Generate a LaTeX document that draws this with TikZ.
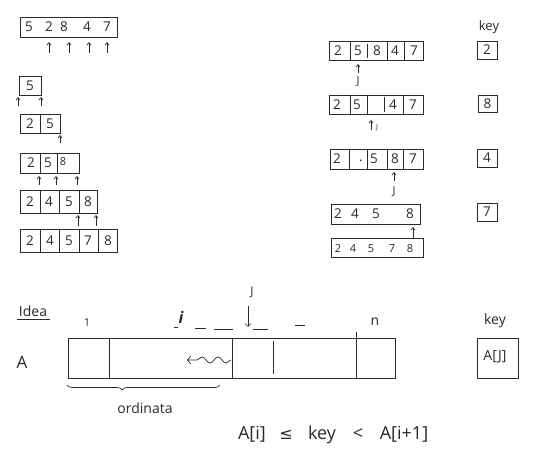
\documentclass[tikz,border=0pt]{standalone}
\usepackage{fontspec}
\setmainfont{Open Sans}
\newfontfamily\symfont{DejaVu Sans}
\usetikzlibrary{arrows.meta,decorations.pathmorphing,decorations.pathreplacing}
\definecolor{pen}{HTML}{2A2A2A}
\tikzset{
  pen/.style={draw=pen, line width=0.7pt},
  cellbox/.style={pen, rectangle, inner sep=0pt},
  dig/.style={text=pen, inner sep=0pt, font=\fontsize{13.5}{15}\selectfont},
  smalldig/.style={text=pen, inner sep=0pt, font=\fontsize{11}{13}\selectfont},
  lbl/.style={text=pen, inner sep=0pt, font=\fontsize{12}{14}\selectfont},
  formulatext/.style={text=pen, inner sep=0pt, anchor=base, font=\fontsize{18}{20}\selectfont},
  uparrow/.style={pen, -{Straight Barb[length=2.5pt,width=4pt]}},
}
\begin{document}
\begin{tikzpicture}[x=1pt,y=-1pt]
\useasboundingbox (0,0) rectangle (539,462);
\fill[white] (0,0) rectangle (539,462);

% ---- top-left unsorted array
\node[cellbox, minimum width=97pt, minimum height=20pt] (t0) at (68.5,27) {};
\foreach \v/\x [count=\k] in {5/29,2/49,8/64,4/87,7/107}
  \node[dig] (t0v\k) at (\x,27) {\v};
\foreach \x [count=\k] in {49,69,89,107}
  {\coordinate (t0a\k) at (\x,53); \coordinate (t0b\k) at (\x,42);
   \draw[uparrow] (t0a\k) -- (t0b\k);}

% ---- left column
\node[cellbox, minimum width=22pt, minimum height=19pt] (l1) at (30,85.5) {};
\node[dig] (l1v1) at (30,85.5) {5};
\coordinate (l1a) at (18,106); \coordinate (l1b) at (18,97);
\coordinate (l1c) at (41,106); \coordinate (l1d) at (41,97);
\draw[uparrow] (l1a) -- (l1b);
\draw[uparrow] (l1c) -- (l1d);

\node[cellbox, minimum width=40pt, minimum height=19pt] (l2) at (40,123.5) {};
\draw[pen] (40,114) -- (40,133);
\node[dig] (l2v1) at (30,123.5) {2};
\node[dig] (l2v2) at (50,123.5) {5};
\coordinate (l2a) at (60,143); \coordinate (l2b) at (60,135);
\draw[uparrow] (l2a) -- (l2b);

\node[cellbox, minimum width=59pt, minimum height=20pt] (l3) at (49.5,163) {};
\draw[pen] (40,153) -- (40,173) (57,153) -- (57,173);
\node[dig] (l3v1) at (31,163) {2};
\node[dig] (l3v2) at (48,163) {5};
\node[smalldig] (l3v3) at (63,162) {8};
\foreach \x [count=\k] in {39,56,77}
  {\coordinate (l3a\k) at (\x,185); \coordinate (l3b\k) at (\x,176);
   \draw[uparrow] (l3a\k) -- (l3b\k);}

\node[cellbox, minimum width=77pt, minimum height=23pt] (l4) at (58.5,201.5) {};
\draw[pen] (40,190) -- (40,213) (59,190) -- (59,213) (79,190) -- (79,213);
\foreach \v/\x [count=\k] in {2/30,4/49,5/69,8/88}
  \node[dig] (l4v\k) at (\x,201.5) {\v};
\foreach \x [count=\k] in {78,96}
  {\coordinate (l4a\k) at (\x,226); \coordinate (l4b\k) at (\x,215);
   \draw[uparrow] (l4a\k) -- (l4b\k);}

\node[cellbox, minimum width=97pt, minimum height=23pt] (l5) at (68.5,240.5) {};
\draw[pen] (40,229) -- (40,252) (59,229) -- (59,252) (79,229) -- (79,252) (98,229) -- (98,252);
\foreach \v/\x [count=\k] in {2/30,4/50,5/69,7/88,8/108}
  \node[dig] (l5v\k) at (\x,240.5) {\v};

% ---- right column
\node[lbl, font=\fontsize{13}{15}\selectfont] (keyt) at (489,27) {key};

\node[cellbox, minimum width=94pt, minimum height=19pt] (r1) at (376,50.5) {};
\draw[pen] (350,41) -- (350,60) (367,44) -- (367,58) (387,41) -- (387,60) (404,41) -- (404,60);
\foreach \v/\x [count=\k] in {2/338,5/358,8/377,4/395,7/414}
  \node[dig] (r1v\k) at (\x,50.5) {\v};
\node[cellbox, minimum width=20pt, minimum height=18pt] (k1) at (487,50) {};
\node[dig] (k1v) at (487,50) {2};
\coordinate (r1a) at (358,73); \coordinate (r1b) at (358,64);
\draw[uparrow] (r1a) -- (r1b);
\node[smalldig] (r1j) at (358,82) {J};

\node[cellbox, minimum width=94pt, minimum height=19pt] (r2) at (376,104.5) {};
\draw[pen] (350,95) -- (350,114) (367,95) -- (367,114) (384,97) -- (384,112) (403,95) -- (403,114);
\foreach \v/\x [count=\k] in {2/337,5/357,4/393,7/413}
  \node[dig] (r2v\k) at (\x,104.5) {\v};
\node[cellbox, minimum width=19pt, minimum height=17pt] (k2) at (487.5,104) {};
\node[dig] (k2v) at (487.5,104) {8};
\coordinate (r2a) at (371,130); \coordinate (r2b) at (371,120);
\draw[uparrow] (r2a) -- (r2b);
\node[font=\fontsize{7}{8}\selectfont, text=pen, inner sep=0pt] (r2j) at (377,128) {J};

\node[cellbox, minimum width=93pt, minimum height=20pt] (r3) at (376.5,159) {};
\draw[pen] (349,149) -- (349,169) (367,149) -- (367,169) (387,149) -- (387,169) (403,149) -- (403,169);
\node[dig] (r3v1) at (337,159) {2};
\node[dig] (r3v2) at (361,161) {.};
\node[dig] (r3v3) at (374,159) {5};
\node[dig] (r3v4) at (395,159) {8};
\node[dig] (r3v5) at (413,159) {7};
\node[cellbox, minimum width=20pt, minimum height=18pt] (k3) at (487,158) {};
\node[dig] (k3v) at (487,158) {4};
\coordinate (r3a) at (394,181); \coordinate (r3b) at (394,172);
\draw[uparrow] (r3a) -- (r3b);
\node[smalldig] (r3j) at (394,192) {J};

\node[cellbox, minimum width=89pt, minimum height=20pt] (r4) at (375.5,214) {};
\foreach \v/\x [count=\k] in {2/338,4/355,5/376,8/410}
  \node[dig] (r4v\k) at (\x,214) {\v};
\node[cellbox, minimum width=20pt, minimum height=18pt] (k4) at (487,212) {};
\node[dig] (k4v) at (487,212) {7};
\coordinate (r4a) at (413,238); \coordinate (r4b) at (413,227);
\draw[uparrow] (r4a) -- (r4b);

\node[cellbox, minimum width=92pt, minimum height=19pt] (r5) at (377,247.5) {};
\foreach \v/\x [count=\k] in {2/338,4/353,5/371,7/392,8/410}
  \node[smalldig] (r5v\k) at (\x,248.5) {\v};

% ---- bottom: idea
\node[lbl, font=\fontsize{14}{16}\selectfont] (idea) at (33,311) {Idea};
\draw[pen] (17,319) -- (50,319);
\node[lbl, font=\fontsize{11}{13}\selectfont] (one) at (87,323) {1};
\node[lbl, font=\fontsize{17}{19}\selectfont] (Alab) at (22,362) {A};

\node[cellbox, minimum width=327pt, minimum height=40pt] (big) at (231.5,358) {};
\draw[pen] (109,338) -- (109,378) (232,338) -- (232,378) (273,341) -- (273,374) (356,332) -- (356,378);
\coordinate (sqa) at (231,360); \coordinate (sqb) at (187,360);
\draw[pen, decorate, decoration={snake, amplitude=3pt, segment length=16pt, post length=4pt}, -{Straight Barb[length=3.5pt,width=8pt]}] (sqa) -- (sqb);

\node[lbl, font=\bfseries\itshape\fontsize{16}{18}\selectfont] (ilab) at (181,317) {i};
\draw[pen] (174,327) -- (178,327) (195,328) -- (206,328) (214,329) -- (233,329) (253,329) -- (268,329) (295,325) -- (305,325);
\node[lbl, font=\fontsize{12}{14}\selectfont] (jlab) at (252,292) {J};
\coordinate (ja) at (248,306); \coordinate (jb) at (248,327);
\draw[pen, -{Straight Barb[length=3pt,width=6pt]}] (ja) -- (jb);
\node[lbl, font=\fontsize{14}{16}\selectfont] (nlab) at (375,322) {n};

\coordinate (bra) at (220,385); \coordinate (brb) at (67,385);
\draw[pen, decorate, decoration={brace, amplitude=5pt, aspect=0.64}] (bra) -- (brb);
\node[lbl, font=\fontsize{14}{16}\selectfont] (ord) at (145,408) {ordinata};

\node[lbl, font=\fontsize{14}{16}\selectfont] (key2) at (495,321) {key};
\node[cellbox, minimum width=41pt, minimum height=40pt] (kbig) at (497.5,358) {};
\node[lbl, font=\fontsize{14}{16}\selectfont] (kbigv) at (495,357) {A[J]};

% ---- formula
\node[formulatext] (f1) at (252,440) {A[i]};
\node[formulatext, font=\symfont\fontsize{16}{18}\selectfont] (f2) at (286,440) {≤};
\node[formulatext] (f3) at (322,440) {key};
\node[formulatext] (f4) at (358,440) {<};
\node[formulatext] (f5) at (404,440) {A[i+1]};
\end{tikzpicture}
\end{document}
